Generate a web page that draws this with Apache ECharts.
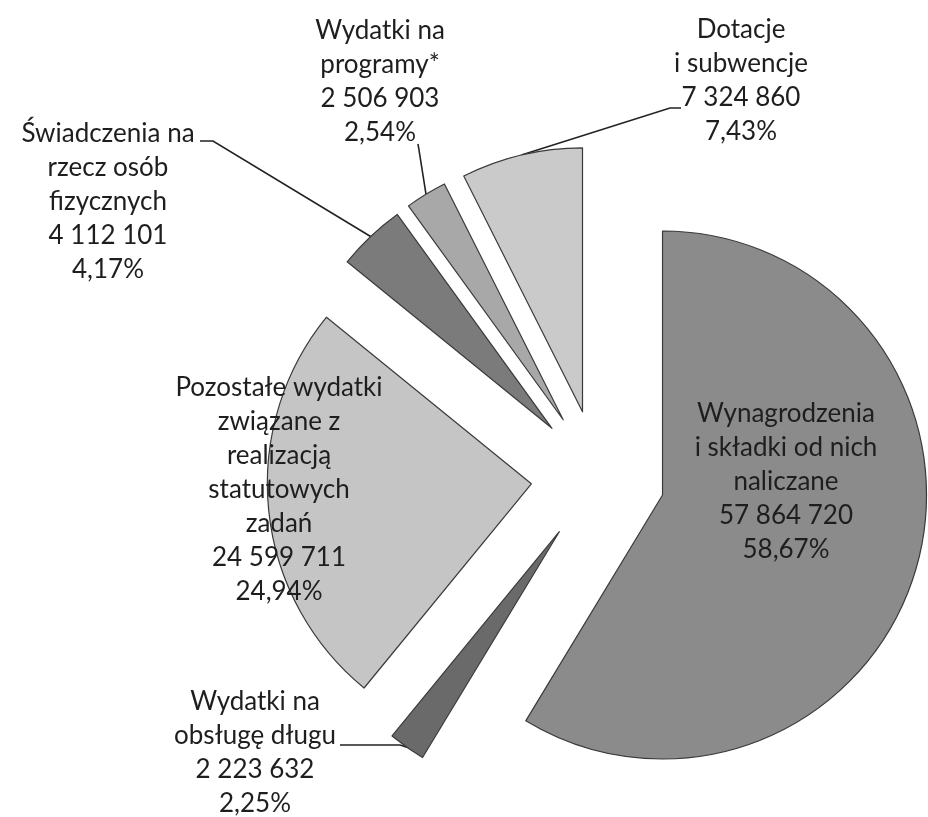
<!DOCTYPE html>
<html>
<head>
<meta charset="utf-8">
<script src="https://cdn.jsdelivr.net/npm/echarts@6/dist/echarts.min.js"></script>
<style>html,body{margin:0;padding:0;background:#fff}#chart{width:928px;height:817px}</style>
</head>
<body>
<div id="chart"></div>
<script>
// ---- data ----
const categories = [
  'Wynagrodzenia\ni składki od nich\nnaliczane',
  'Wydatki na\nobsługę długu',
  'Pozostałe wydatki\nzwiązane z\nrealizacją\nstatutowych\nzadań',
  'Świadczenia na\nrzecz osób\nfizycznych',
  'Wydatki na\nprogramy*',
  'Dotacje\ni subwencje'
];
const values = [57864720, 2223632, 24599711, 4112101, 2506903, 7324860];

// ---- styling / layout ----
const sliceColors = ['#8b8b8b', '#6a6a6a', '#c5c5c5', '#7b7b7b', '#a8a8a8', '#cacaca'];
const CENTER = [598, 477];
const RADIUS = 264;
const EXPLODE = 67;
const labelPos = [
  {x: 786, y: 482},
  {x: 255, y: 753, line: [[400, 745], [340, 745]]},
  {x: 279, y: 490},
  {x: 108, y: 202, line: [[213, 141], [200, 141]]},
  {x: 380, y: 82, line: [[419, 150], [418, 144]]},
  {x: 741, y: 81, line: [[670, 108], [681, 108]]}
];

const total = values.reduce((a, b) => a + b, 0);
let acc = 0;
const mids = values.map(v => { const m = (acc + v / 2) / total * 2 * Math.PI; acc += v; return m; });
// exploded centre of each slice: pie centre moved outwards along the slice bisector
const sliceCenters = mids.map(a => [CENTER[0] + EXPLODE * Math.sin(a), CENTER[1] - EXPLODE * Math.cos(a)]);
function arcPoint(i) {
  return [sliceCenters[i][0] + RADIUS * Math.sin(mids[i]), sliceCenters[i][1] - RADIUS * Math.cos(mids[i])];
}
function fmtNum(v) { return String(v).replace(/\B(?=(\d{3})+(?!\d))/g, ' '); }

const labelStyle = {
  show: true,
  position: 'outside',
  fontFamily: 'Lato',
  fontSize: 26,
  lineHeight: 34,
  color: '#1e1e1e',
  align: 'center',
  formatter: p => p.name + '\n' + fmtNum(p.value) + '\n' + p.percent.toFixed(2).replace('.', ',') + '%'
};

// one pie layer per exploded slice; every layer keeps the whole data set so the angles are shared
const series = categories.map((_, k) => ({
  type: 'pie',
  center: sliceCenters[k],
  radius: RADIUS,
  startAngle: 90,
  clockwise: true,
  avoidLabelOverlap: false,
  emphasis: {disabled: true},
  label: labelStyle,
  labelLine: {show: true, lineStyle: {color: '#222', width: 1.6}},
  labelLayout: function (params) {
    const i = params.dataIndex;
    const p = labelPos[i];
    const out = {x: p.x, y: p.y, align: 'center', verticalAlign: 'middle'};
    if (p.line) out.labelLinePoints = [arcPoint(i), p.line[0], p.line[1]];
    return out;
  },
  data: categories.map((name, i) => ({
    name: name,
    value: values[i],
    itemStyle: i === k
      ? {color: sliceColors[i], borderColor: '#3a3a3a', borderWidth: 1.2}
      : {color: 'rgba(0,0,0,0)', borderWidth: 0},
    label: {show: i === k},
    labelLine: {show: i === k && !!labelPos[i].line}
  }))
}));

const chart = echarts.init(document.getElementById('chart'), null, {renderer: 'canvas'});
chart.setOption({
  animation: false,
  backgroundColor: '#ffffff',
  series: series
});
</script>
</body>
</html>
